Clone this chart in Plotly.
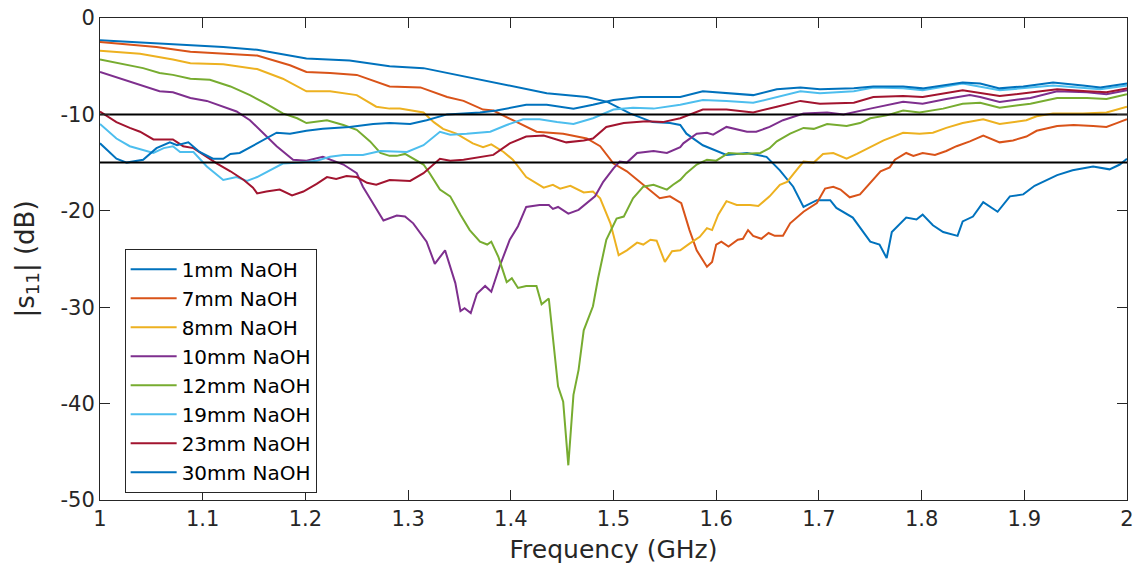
import plotly.graph_objects as go

# ---------------- data ----------------
f_1mm = [1.0, 1.055, 1.12, 1.153, 1.201, 1.243, 1.282, 1.315, 1.338, 1.37, 1.402, 1.435, 1.474, 1.494,
         1.516, 1.538, 1.555, 1.565, 1.571, 1.587, 1.61, 1.63, 1.649, 1.662, 1.675, 1.685, 1.698, 1.711,
         1.717, 1.733, 1.75, 1.759, 1.766, 1.771, 1.785, 1.795, 1.801, 1.811, 1.821, 1.835, 1.84, 1.85,
         1.86, 1.874, 1.886, 1.899, 1.91, 1.932, 1.947, 1.967, 1.983, 1.993, 2.0]
s_1mm = [-2.3, -2.6, -3.0, -3.3, -4.2, -4.4, -5.0, -5.2, -5.7, -6.4, -7.1, -7.8, -8.2, -8.7,
         -9.9, -10.8, -10.9, -11.1, -12.0, -13.2, -14.2, -14.0, -14.4, -15.8, -17.5, -19.6, -18.9, -18.9,
         -19.7, -20.7, -23.2, -23.5, -24.9, -22.2, -20.7, -20.9, -20.4, -21.5, -22.2, -22.6, -21.1, -20.6,
         -19.1, -20.1, -18.5, -18.3, -17.4, -16.3, -15.8, -15.4, -15.7, -15.2, -14.6]

f_7mm = [1.0, 1.055, 1.088, 1.12, 1.153, 1.185, 1.201, 1.224, 1.25, 1.282, 1.312, 1.338, 1.354, 1.373,
         1.383, 1.402, 1.425, 1.451, 1.474, 1.487, 1.5, 1.513, 1.529, 1.545, 1.555, 1.566, 1.574, 1.581,
         1.591, 1.596, 1.6, 1.605, 1.612, 1.621, 1.626, 1.631, 1.636, 1.644, 1.651, 1.657, 1.665, 1.672,
         1.685, 1.698, 1.706, 1.714, 1.721, 1.73, 1.74, 1.75, 1.76, 1.769, 1.774, 1.785, 1.792, 1.801,
         1.813, 1.824, 1.834, 1.847, 1.86, 1.876, 1.889, 1.902, 1.912, 1.932, 1.948, 1.967, 1.98, 1.99, 2.0]
s_7mm = [-2.5, -3.0, -3.5, -3.7, -3.9, -4.9, -5.6, -5.7, -5.9, -7.1, -7.2, -8.2, -8.6, -9.5,
         -9.6, -10.6, -11.8, -12.0, -12.5, -13.3, -15.1, -15.9, -17.3, -18.7, -18.5, -19.2, -22.0, -24.1,
         -25.8, -25.3, -23.5, -23.2, -23.7, -23.0, -22.9, -22.0, -22.6, -22.9, -22.3, -22.6, -22.6, -21.3,
         -20.1, -19.2, -17.7, -17.5, -17.8, -18.6, -18.3, -17.1, -15.9, -15.5, -14.7, -14.0, -14.3, -14.0,
         -14.2, -13.8, -13.3, -12.8, -12.2, -12.9, -12.7, -12.3, -11.7, -11.2, -11.1, -11.2, -11.3, -10.9, -10.5]

f_8mm = [1.0, 1.039, 1.071, 1.088, 1.12, 1.153, 1.178, 1.201, 1.224, 1.25, 1.269, 1.282, 1.292, 1.315,
         1.325, 1.334, 1.347, 1.363, 1.373, 1.381, 1.393, 1.402, 1.415, 1.432, 1.441, 1.448, 1.458, 1.471,
         1.48, 1.487, 1.497, 1.505, 1.513, 1.523, 1.529, 1.536, 1.542, 1.55, 1.557, 1.565, 1.574, 1.584,
         1.591, 1.596, 1.602, 1.61, 1.62, 1.633, 1.641, 1.652, 1.662, 1.669, 1.678, 1.685, 1.695, 1.704,
         1.714, 1.727, 1.737, 1.75, 1.763, 1.782, 1.798, 1.811, 1.824, 1.84, 1.86, 1.876, 1.889, 1.902,
         1.912, 1.928, 1.957, 1.98, 2.0]
s_8mm = [-3.4, -3.7, -4.3, -4.7, -4.8, -5.3, -6.3, -7.6, -7.6, -8.0, -9.2, -9.4, -9.4, -9.8,
         -10.8, -11.5, -12.0, -13.0, -13.4, -13.1, -13.9, -14.7, -16.5, -17.6, -17.3, -17.7, -17.4, -18.1,
         -18.0, -18.7, -21.3, -24.6, -24.1, -23.3, -23.5, -23.0, -23.1, -25.3, -24.2, -24.1, -23.4, -22.7,
         -21.8, -22.0, -20.4, -19.0, -19.4, -19.4, -19.5, -18.5, -17.3, -17.0, -15.8, -14.9, -15.0, -14.1,
         -14.0, -14.6, -14.1, -13.4, -12.7, -11.9, -12.0, -11.9, -11.4, -10.9, -10.5, -11.0, -10.8, -10.6,
         -10.2, -9.9, -9.9, -9.8, -9.2]

f_10mm = [1.0, 1.023, 1.042, 1.058, 1.071, 1.088, 1.104, 1.12, 1.133, 1.146, 1.159, 1.172, 1.188, 1.201,
          1.217, 1.237, 1.25, 1.256, 1.26, 1.269, 1.276, 1.289, 1.297, 1.305, 1.318, 1.326, 1.336, 1.346,
          1.351, 1.355, 1.361, 1.367, 1.375, 1.381, 1.389, 1.399, 1.407, 1.415, 1.428, 1.437, 1.441, 1.446,
          1.456, 1.466, 1.474, 1.482, 1.49, 1.5, 1.506, 1.513, 1.523, 1.539, 1.552, 1.565, 1.568, 1.581,
          1.591, 1.597, 1.61, 1.63, 1.639, 1.652, 1.665, 1.685, 1.708, 1.724, 1.75, 1.782, 1.801, 1.824,
          1.847, 1.857, 1.876, 1.906, 1.932, 1.961, 1.98, 2.0]
s_10mm = [-5.6, -6.4, -7.0, -7.6, -7.7, -8.3, -8.6, -9.2, -9.7, -10.6, -12.0, -13.3, -14.7, -14.8,
          -14.4, -15.2, -16.1, -17.5, -18.2, -19.7, -21.0, -20.5, -20.6, -21.3, -23.2, -25.5, -24.1, -27.5,
          -30.4, -30.1, -30.6, -28.6, -27.8, -28.4, -25.8, -23.0, -21.6, -19.6, -19.4, -19.4, -19.8, -19.6,
          -20.3, -19.9, -19.2, -18.5, -17.0, -15.6, -14.9, -15.0, -14.0, -13.8, -14.0, -13.4, -13.0, -12.0,
          -11.9, -12.1, -11.3, -11.8, -11.8, -11.3, -10.6, -9.9, -9.8, -10.0, -9.4, -8.7, -8.9, -8.4,
          -8.0, -8.2, -8.7, -8.3, -7.6, -7.7, -7.9, -7.5]

f_12mm = [1.0, 1.023, 1.042, 1.058, 1.071, 1.088, 1.107, 1.127, 1.146, 1.162, 1.178, 1.192, 1.201, 1.221,
          1.237, 1.25, 1.263, 1.273, 1.282, 1.289, 1.297, 1.315, 1.321, 1.331, 1.341, 1.351, 1.36, 1.37,
          1.377, 1.381, 1.388, 1.396, 1.401, 1.407, 1.415, 1.425, 1.43, 1.437, 1.446, 1.451, 1.456, 1.461,
          1.466, 1.471, 1.48, 1.485, 1.493, 1.503, 1.51, 1.519, 1.529, 1.539, 1.552, 1.558, 1.565, 1.571,
          1.581, 1.591, 1.6, 1.612, 1.626, 1.643, 1.652, 1.659, 1.672, 1.685, 1.695, 1.708, 1.727, 1.74,
          1.75, 1.766, 1.782, 1.798, 1.821, 1.84, 1.857, 1.876, 1.906, 1.932, 1.961, 1.98, 2.0]
s_12mm = [-4.3, -4.8, -5.2, -5.7, -5.9, -6.3, -6.4, -7.1, -8.0, -8.9, -9.9, -10.4, -10.9, -10.6,
          -11.1, -11.6, -12.8, -14.0, -14.3, -14.3, -14.1, -15.2, -16.1, -17.8, -18.5, -20.4, -22.0, -23.2,
          -23.5, -23.2, -24.8, -27.4, -27.0, -28.0, -27.8, -27.8, -29.7, -29.1, -38.2, -39.8, -46.4, -39.1,
          -36.5, -32.4, -29.9, -27.0, -23.0, -20.8, -20.6, -18.7, -17.5, -17.3, -17.8, -17.3, -16.8, -16.1,
          -15.2, -14.7, -14.8, -14.0, -14.1, -14.0, -13.5, -12.8, -12.0, -11.4, -11.5, -11.0, -11.2, -10.9,
          -10.4, -10.1, -9.6, -9.8, -9.4, -8.9, -8.8, -9.3, -8.9, -8.3, -8.3, -8.4, -7.9]

f_19mm = [1.0, 1.016, 1.029, 1.042, 1.052, 1.062, 1.071, 1.078, 1.091, 1.104, 1.12, 1.133, 1.143, 1.153,
          1.166, 1.178, 1.195, 1.211, 1.224, 1.237, 1.256, 1.273, 1.299, 1.315, 1.331, 1.341, 1.357, 1.38,
          1.396, 1.412, 1.428, 1.445, 1.461, 1.48, 1.5, 1.519, 1.539, 1.565, 1.587, 1.61, 1.636, 1.659,
          1.682, 1.701, 1.734, 1.753, 1.782, 1.801, 1.84, 1.876, 1.928, 1.974, 2.0]
s_19mm = [-11.0, -12.5, -13.3, -13.7, -14.0, -13.5, -13.3, -13.9, -13.9, -15.4, -16.8, -16.5, -16.9, -16.5,
          -15.8, -15.1, -15.0, -14.8, -14.4, -14.2, -14.2, -13.8, -13.9, -13.2, -11.8, -12.1, -12.0, -11.8,
          -11.1, -10.5, -10.5, -10.8, -11.0, -10.4, -9.5, -9.3, -9.4, -9.0, -8.5, -8.6, -8.8, -8.2,
          -7.6, -7.8, -7.6, -7.2, -7.3, -7.5, -6.8, -7.5, -7.0, -7.4, -7.0]

f_23mm = [1.0, 1.016, 1.029, 1.039, 1.052, 1.071, 1.081, 1.091, 1.101, 1.114, 1.127, 1.14, 1.149, 1.153,
          1.162, 1.175, 1.187, 1.198, 1.211, 1.221, 1.23, 1.24, 1.25, 1.26, 1.269, 1.282, 1.302, 1.315,
          1.331, 1.341, 1.354, 1.37, 1.383, 1.399, 1.415, 1.432, 1.454, 1.471, 1.48, 1.493, 1.51, 1.532,
          1.548, 1.565, 1.587, 1.61, 1.636, 1.659, 1.682, 1.701, 1.734, 1.753, 1.782, 1.801, 1.84, 1.876,
          1.906, 1.932, 1.961, 1.98, 2.0]
s_23mm = [-9.7, -10.8, -11.4, -11.8, -12.6, -12.6, -13.3, -13.5, -14.2, -15.1, -15.9, -16.8, -17.6, -18.2,
          -18.0, -17.8, -18.4, -18.0, -17.2, -16.5, -16.7, -16.4, -16.5, -17.1, -17.3, -16.8, -16.9, -16.1,
          -14.6, -14.8, -14.7, -14.4, -14.2, -13.0, -12.3, -12.2, -12.9, -12.7, -12.5, -11.3, -10.9, -10.7,
          -10.8, -10.4, -9.5, -9.5, -9.8, -9.2, -8.6, -8.9, -8.8, -8.2, -8.1, -8.2, -7.5, -8.1,
          -7.7, -7.4, -7.6, -7.7, -7.3]

f_30mm = [1.0, 1.016, 1.026, 1.042, 1.055, 1.068, 1.075, 1.086, 1.097, 1.11, 1.12, 1.127, 1.136, 1.153,
          1.172, 1.185, 1.201, 1.217, 1.243, 1.266, 1.282, 1.302, 1.318, 1.338, 1.37, 1.386, 1.415, 1.435,
          1.461, 1.48, 1.5, 1.526, 1.565, 1.587, 1.61, 1.636, 1.659, 1.682, 1.701, 1.734, 1.753, 1.782,
          1.801, 1.84, 1.857, 1.876, 1.899, 1.928, 1.957, 1.974, 2.0]
s_30mm = [-13.0, -14.6, -15.0, -14.7, -13.5, -12.9, -13.2, -12.9, -13.9, -14.6, -14.6, -14.1, -14.0, -13.0,
          -11.9, -12.0, -11.7, -11.5, -11.3, -11.0, -10.9, -11.0, -10.6, -10.0, -9.8, -9.6, -9.0, -9.0,
          -9.4, -9.0, -8.5, -8.2, -8.2, -7.6, -7.8, -8.0, -7.4, -7.2, -7.4, -7.3, -7.1, -7.1,
          -7.3, -6.7, -6.8, -7.3, -7.1, -6.7, -7.0, -7.2, -6.8]

series_names = ["1mm NaOH", "7mm NaOH", "8mm NaOH", "10mm NaOH", "12mm NaOH",
                "19mm NaOH", "23mm NaOH", "30mm NaOH"]
series_freqs = [f_1mm, f_7mm, f_8mm, f_10mm, f_12mm, f_19mm, f_23mm, f_30mm]
series_vals = [s_1mm, s_7mm, s_8mm, s_10mm, s_12mm, s_19mm, s_23mm, s_30mm]
colors = ["#0072BD", "#D95319", "#EDB120", "#7E2F8E", "#77AC30", "#4DBEEE", "#A2142F", "#0072BD"]

threshold_levels = [-10, -15]
x_ticks = [1.0, 1.1, 1.2, 1.3, 1.4, 1.5, 1.6, 1.7, 1.8, 1.9, 2.0]
x_tick_labels = ["1", "1.1", "1.2", "1.3", "1.4", "1.5", "1.6", "1.7", "1.8", "1.9", "2"]
y_ticks = [0, -10, -20, -30, -40, -50]
y_tick_labels = ["0", "-10", "-20", "-30", "-40", "-50"]

for fx, sv in zip(series_freqs, series_vals):
    assert len(fx) == len(sv), (len(fx), len(sv))

# ---------------- figure ----------------
FONT = "DejaVu Sans, Liberation Sans, sans-serif"
AX = "#262626"

fig = go.Figure()
for name, fx, sv, c in zip(series_names, series_freqs, series_vals, colors):
    fig.add_trace(go.Scatter(x=fx, y=sv, mode="lines", name=name,
                             line=dict(color=c, width=2)))

for lvl in threshold_levels:
    fig.add_trace(go.Scatter(x=[x_ticks[0], x_ticks[-1]], y=[lvl, lvl], mode="lines",
                             line=dict(color="black", width=2), showlegend=False,
                             hoverinfo="skip"))

fig.update_layout(
    width=1135, height=573,
    margin=dict(l=100, r=8, t=18, b=73),
    paper_bgcolor="white", plot_bgcolor="white",
    font=dict(family=FONT, size=20, color=AX),
    showlegend=True,
    legend=dict(x=0.024, y=0.015, xanchor="left", yanchor="bottom",
                bgcolor="white", bordercolor=AX, borderwidth=1,
                font=dict(family=FONT, size=20, color="black"),
                itemwidth=46, tracegroupgap=0),
    xaxis=dict(range=[1, 2], tickvals=x_ticks, ticktext=x_tick_labels, automargin=False,
               showgrid=False, zeroline=False, showline=True, mirror="ticks",
               linecolor=AX, linewidth=1, ticks="inside", ticklen=10, tickcolor=AX,
               tickfont=dict(size=21, color=AX),
               title=dict(text="Frequency (GHz)", font=dict(size=25, color=AX), standoff=10)),
    yaxis=dict(range=[-50, 0], tickvals=y_ticks, ticktext=y_tick_labels, automargin=False,
               showgrid=False, zeroline=False, showline=True, mirror="ticks",
               linecolor=AX, linewidth=1, ticks="inside", ticklen=10, tickcolor=AX,
               tickfont=dict(size=21, color=AX),
               title=dict(text="|s<sub>11</sub>| (dB)", font=dict(size=26, color=AX), standoff=18)),
)

fig.write_html("out.html")
